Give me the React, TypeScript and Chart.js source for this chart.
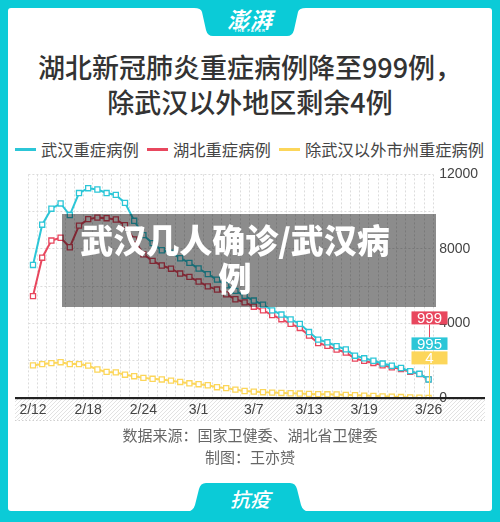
import React, { useEffect, useRef } from 'react';
import { Chart, registerables } from 'chart.js';

Chart.register(...registerables);

const DATES = [
  '2/12', '2/13', '2/14', '2/15', '2/16', '2/17', '2/18', '2/19', '2/20', '2/21',
  '2/22', '2/23', '2/24', '2/25', '2/26', '2/27', '2/28', '2/29',
  '3/1', '3/2', '3/3', '3/4', '3/5', '3/6', '3/7', '3/8', '3/9', '3/10',
  '3/11', '3/12', '3/13', '3/14', '3/15', '3/16', '3/17', '3/18', '3/19', '3/20',
  '3/21', '3/22', '3/23', '3/24', '3/25', '3/26',
];
const X_TICK_LABELS = ['2/12', '2/18', '2/24', '3/1', '3/7', '3/13', '3/19', '3/26'];
const Y_LABEL_VALUES = [0, 4000, 8000, 12000];

// 武汉重症病例 (cyan)
const WUHAN_SEVERE = [
  7140, 9300, 10160, 10440, 9820, 11000, 11260, 11190, 11000, 10900,
  10470, 9510, 8740, 8310, 7930, 7800, 7500, 7250, 6950, 6650,
  6350, 6050, 5750, 5480, 5230, 5010, 4700, 4480, 4220, 3980,
  3540, 3130, 2990, 2780, 2610, 2270, 2130, 2000, 1850, 1730,
  1610, 1440, 1300, 995,
];
// 湖北重症病例 (red)
const HUBEI_SEVERE = [
  5470, 7530, 8450, 8600, 8090, 9250, 9600, 9680, 9650, 9580,
  9270, 8510, 7710, 7360, 7110, 6940, 6680, 6500, 6250, 5990,
  5820, 5560, 5300, 5130, 4900, 4700, 4450, 4230, 3980, 3760,
  3350, 2950, 2800, 2600, 2440, 2120, 1990, 1880, 1750, 1650,
  1560, 1410, 1280, 999,
];
// 除武汉以外市州重症病例 (yellow)
const OTHER_SEVERE = [
  1750, 1820, 1870, 1920, 1820, 1820, 1735, 1530, 1400, 1375,
  1250, 1170, 1080, 1030, 995, 930, 860, 790, 740, 685,
  580, 530, 450, 375, 345, 310, 290, 270, 255, 240,
  220, 205, 200, 190, 170, 150, 130, 110, 90, 70,
  50, 30, 15, 4,
];

const SERIES_NAMES = ['武汉重症病例', '湖北重症病例', '除武汉以外市州重症病例'];

const CYAN = '#2cc6d7';
const RED = '#e8475e';
const YELLOW = '#fcd65a';
const FRAME = '#0bcbd7';

const CJK = '"Noto Sans CJK SC", "Noto Sans", sans-serif';
const LATIN = '"Liberation Sans", Arial, sans-serif';

const decorPlugin = {
  id: 'decor',
  beforeDraw(chart: any) {
    const { ctx, chartArea } = chart;
    const bottom = chartArea.bottom;
    const x0 = 7;
    const x1 = 477;
    const y0 = bottom + 1;
    const y1 = bottom + 22;
    ctx.save();
    ctx.beginPath();
    ctx.rect(x0, y0, x1 - x0, y1 - y0);
    ctx.clip();
    ctx.strokeStyle = '#e2e2e2';
    ctx.lineWidth = 1;
    for (let x = x0 - 30; x < x1 + 30; x += 4) {
      ctx.beginPath();
      ctx.moveTo(x, y1);
      ctx.lineTo(x + (y1 - y0), y0);
      ctx.stroke();
    }
    ctx.restore();
    ctx.save();
    ctx.strokeStyle = '#cfcfcf';
    ctx.lineWidth = 1;
    ctx.setLineDash([1.5, 2]);
    ctx.beginPath();
    ctx.moveTo(x0, y1 + 0.5);
    ctx.lineTo(x1, y1 + 0.5);
    ctx.stroke();
    ctx.restore();
  },
  afterDatasetsDraw(chart: any) {
    const { ctx, chartArea } = chart;
    const yZero = chart.scales.y.getPixelForValue(0);
    ctx.save();
    ctx.fillStyle = '#222';
    ctx.fillRect(7, yZero - 1, 470, 2.2);

    const meta = chart.getDatasetMeta(0);
    const px = Math.round(meta.data[meta.data.length - 1].x) + 0.5;
    const top = chartArea.top;
    const boxW = 36;
    const boxes = [
      { y: top + 137, h: 13, color: RED, text: String(HUBEI_SEVERE[HUBEI_SEVERE.length - 1]) },
      { y: top + 163, h: 12.5, color: CYAN, text: String(WUHAN_SEVERE[WUHAN_SEVERE.length - 1]) },
      { y: top + 177, h: 13, color: YELLOW, text: String(OTHER_SEVERE[OTHER_SEVERE.length - 1]) },
    ];
    ctx.lineWidth = 1;
    ctx.strokeStyle = RED;
    ctx.beginPath();
    ctx.moveTo(px, boxes[0].y + boxes[0].h);
    ctx.lineTo(px, boxes[1].y);
    ctx.stroke();
    ctx.strokeStyle = YELLOW;
    ctx.beginPath();
    ctx.moveTo(px, boxes[2].y + boxes[2].h);
    ctx.lineTo(px, yZero - 1);
    ctx.stroke();
    ctx.font = '15px ' + LATIN;
    ctx.textAlign = 'center';
    ctx.textBaseline = 'middle';
    boxes.forEach((b) => {
      ctx.fillStyle = b.color;
      ctx.fillRect(px - boxW / 2, b.y, boxW, b.h);
      ctx.fillStyle = '#fff';
      ctx.fillText(b.text, px, b.y + b.h / 2 + 1);
    });
    ctx.restore();
  },
};

export default function App() {
  const ref = useRef<HTMLCanvasElement>(null);

  useEffect(() => {
    const mk = (label: string, data: number[], color: string) => ({
      label,
      data,
      borderColor: color,
      backgroundColor: color,
      borderWidth: 2,
      tension: 0,
      pointStyle: 'rect' as const,
      pointRadius: 3.6,
      pointBorderWidth: 1.3,
      pointBackgroundColor: '#fff',
      pointBorderColor: color,
    });
    const chart = new Chart(ref.current as HTMLCanvasElement, {
      type: 'line',
      data: {
        labels: DATES,
        datasets: [
          mk(SERIES_NAMES[0], WUHAN_SEVERE, CYAN),
          mk(SERIES_NAMES[1], HUBEI_SEVERE, RED),
          mk(SERIES_NAMES[2], OTHER_SEVERE, YELLOW),
        ],
      },
      options: {
        responsive: false,
        animation: false,
        events: [],
        layout: { padding: { left: 20.4, top: 5, right: 0, bottom: 0 } },
        plugins: {
          legend: { display: false },
          tooltip: { enabled: false },
        },
        scales: {
          x: {
            type: 'category',
            offset: true,
            grid: { offset: true, color: '#dcdcdc', drawTicks: false, lineWidth: 1 },
            border: { display: false, dash: [2, 2] },
            ticks: {
              autoSkip: false,
              maxRotation: 0,
              padding: 4,
              color: '#444',
              font: { size: 14, family: LATIN },
              callback: (_v: any, i: number) =>
                X_TICK_LABELS.includes(DATES[i]) ? DATES[i] : '',
            },
            afterFit: (s: any) => {
              s.height = 27;
            },
          },
          y: {
            position: 'right',
            min: 0,
            max: 12000,
            grid: { color: '#dcdcdc', drawTicks: false, lineWidth: 1 },
            border: { display: false, dash: [2, 2] },
            ticks: {
              stepSize: 2000,
              padding: 6,
              color: '#444',
              font: { size: 14, family: LATIN },
              callback: (v: any) => (Y_LABEL_VALUES.includes(Number(v)) ? String(v) : ''),
            },
            afterFit: (s: any) => {
              s.width = 58.8;
            },
          },
        },
      },
      plugins: [decorPlugin],
    } as any);
    return () => chart.destroy();
  }, []);

  const legendItems = [
    { color: CYAN, text: SERIES_NAMES[0], left: 15 },
    { color: RED, text: SERIES_NAMES[1], left: 147 },
    { color: YELLOW, text: SERIES_NAMES[2], left: 279 },
  ];

  return (
    <div
      style={{
        position: 'absolute',
        left: 0,
        top: 0,
        width: 500,
        height: 522,
        background: FRAME,
        overflow: 'hidden',
        fontFamily: CJK,
      }}
    >
      <div
        style={{
          position: 'absolute',
          left: 8,
          top: 8,
          width: 484,
          height: 503,
          background: '#fff',
          borderRadius: 3,
        }}
      />
      <svg width={500} height={522} style={{ position: 'absolute', left: 0, top: 0 }}>
        <path
          d="M 194 0 L 306 0 L 306 8 Q 299 8 298 12 L 294 30 Q 292.5 36 287 36 L 213 36 Q 207.5 36 206 30 L 202 12 Q 201 8 194 8 Z"
          fill={FRAME}
        />
        <path
          d="M 186 512 Q 193.5 511 195 505 L 199 489 Q 200.5 483 206 483 L 290 483 Q 295.5 483 297 489 L 301 505 Q 302.5 511 310 512 Z"
          fill={FRAME}
        />
      </svg>
      <div
        style={{
          position: 'absolute',
          left: 200,
          top: 5,
          width: 100,
          textAlign: 'center',
          color: '#fff',
          fontSize: 22,
          lineHeight: '26px',
          fontWeight: 700,
          fontStyle: 'italic',
          letterSpacing: 1,
        }}
      >
        澎湃
      </div>
      <div
        style={{
          position: 'absolute',
          left: 200,
          top: 28,
          width: 100,
          textAlign: 'center',
          color: '#fff',
          fontSize: 4,
          lineHeight: '5px',
          letterSpacing: 1,
          fontFamily: LATIN,
          fontWeight: 700,
        }}
      >
        THE PAPER
      </div>
      <div
        style={{
          position: 'absolute',
          left: 0,
          top: 48.5,
          width: 500,
          textAlign: 'center',
          color: '#333',
          fontSize: 27,
          lineHeight: '35px',
          fontWeight: 500,
        }}
      >
        <div>湖北新冠肺炎重症病例降至999例，</div>
        <div>除武汉以外地区剩余4例</div>
      </div>
      {legendItems.map((it) => (
        <div
          key={it.text}
          style={{
            position: 'absolute',
            left: it.left,
            top: 138,
            display: 'flex',
            alignItems: 'center',
            height: 22,
          }}
        >
          <div style={{ width: 21, height: 3, background: it.color, marginRight: 5 }} />
          <span style={{ fontSize: 16.3, lineHeight: '22px', color: '#444', whiteSpace: 'nowrap' }}>
            {it.text}
          </span>
        </div>
      ))}
      <canvas
        ref={ref}
        width={484}
        height={265}
        style={{ position: 'absolute', left: 8, top: 160, width: 484, height: 265 }}
      />
      <div
        style={{
          position: 'absolute',
          left: 62,
          top: 214,
          width: 374,
          height: 93,
          background: 'rgba(0,0,0,0.45)',
        }}
      />
      <div
        style={{
          position: 'absolute',
          left: 72,
          top: 220,
          width: 326,
          textAlign: 'center',
          color: '#fff',
          fontSize: 33,
          lineHeight: '38px',
          fontWeight: 900,
        }}
      >
        武汉几人确诊/武汉病例
      </div>
      <div
        style={{
          position: 'absolute',
          left: 0,
          top: 424,
          width: 500,
          textAlign: 'center',
          color: '#666',
          fontSize: 15,
          lineHeight: '22px',
        }}
      >
        <div>数据来源：国家卫健委、湖北省卫健委</div>
        <div>制图：王亦赟</div>
      </div>
      <div
        style={{
          position: 'absolute',
          left: 200,
          top: 486,
          width: 100,
          textAlign: 'center',
          color: '#fff',
          fontSize: 20,
          lineHeight: '26px',
          fontWeight: 500,
          fontStyle: 'italic',
        }}
      >
        抗疫
      </div>
    </div>
  );
}
